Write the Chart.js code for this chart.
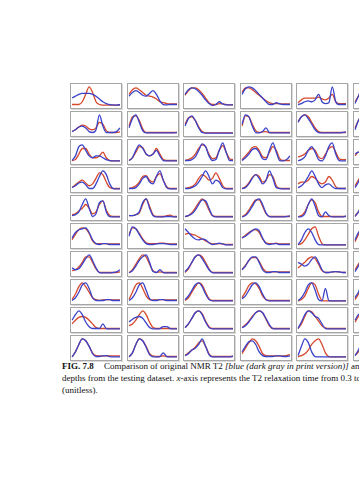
<!DOCTYPE html>
<html>
<head>
<meta charset="utf-8">
<script src="https://cdn.jsdelivr.net/npm/chart.js@4.4.0/dist/chart.umd.min.js"></script>
<style>
  html, body { margin: 0; padding: 0; background: #fff; width: 359px; height: 480px; overflow: hidden; }
  #grid { position: absolute; left: 0; top: 0; width: 359px; height: 480px; overflow: hidden; }
  .panel { position: absolute; width: 50px; height: 24px; border: 1px solid #a6a6a6; box-shadow: 1px 1px 0 #dadada; background: #fff; }
  .panel canvas { display: block; }
  #caption { position: absolute; left: 62px; top: 361px; width: 460px; font-family: "Liberation Serif", "Times New Roman", serif; font-size: 9px; line-height: 11.8px; color: #111; white-space: nowrap; }
  #caption b { font-weight: bold; margin-right: 8px; }
</style>
</head>
<body>
<div id="grid"></div>
<div id="caption">
  <div><b>FIG. 7.8</b> Comparison of original NMR T2 <i>[blue (dark gray in print version)]</i> and predicted NMR T2 <i>[red]</i></div>
  <div>depths from the testing dataset. <i>x</i>-axis represents the T2 relaxation time from 0.3 to 3000 ms</div>
  <div>(unitless).</div>
</div>
<script>
// bins of the T2 distribution (x-axis of every small panel)
var xLabels = [0, 1, 2, 3, 4, 5, 6, 7, 8, 9, 10, 11, 12, 13, 14];

// original (blue) and predicted (red) curves, one array per row, 6 panels per row
var row1Blue = [
  [4, 5, 6, 6.5, 6.5, 6.5, 6, 5, 3.5, 2, 1, 0.5, 0.3, 0.2, 0.5],
  [5, 7, 8, 7, 5.5, 5, 6.5, 8, 6, 2.5, 0.5, 0.3, 0.5, 0.5, 0.5],
  [6, 8.5, 9.5, 9, 7.5, 5.5, 3, 1, 0, 0.5, 2, 0.8, 0.3, 0.3, 0.3],
  [6, 9, 10, 9.5, 8, 6, 4, 2, 0.5, 0.5, 1.5, 0.8, 0.5, 0.5, 0.5],
  [0.5, 1, 2, 2.5, 2, 3, 6, 2, 1, 1.5, 10, 2, 0.5, 0.5, 0.5],
  [1, 5, 9, 8]
];
var row1Red = [
  [0.5, 0.5, 0.5, 2, 6, 10, 7, 2, 0.5, 0.2, 0.2, 0.2, 0.2, 0.2, 0.2],
  [6, 8.5, 9.5, 8.5, 7, 5.5, 5, 4.5, 3.5, 2, 1.5, 1, 0.8, 0.8, 0.8],
  [5.5, 8, 9.5, 9.5, 8.5, 6.5, 4, 1.5, 0.5, 0.5, 1, 0.8, 0.5, 0.3, 0.3],
  [7, 9.5, 9.5, 8.5, 7, 5.5, 4, 2.5, 1.5, 1, 1, 1, 0.8, 0.8, 0.8],
  [1.5, 3, 4, 4, 4, 4, 4.5, 3.5, 3, 4, 6, 2, 1, 1, 1],
  [2, 5, 8, 8]
];

var row2Blue = [
  [1, 2, 3.5, 4, 3, 1, 0.5, 2, 10, 4, 0.5, 0.5, 0.5, 1, 3],
  [3, 8, 10, 6, 1.5, 0.3, 0.3, 0.3, 0.3, 0.3, 0.3, 0.3, 0.3, 0.3, 0.5],
  [4, 8, 9.5, 7, 3, 0.5, 0.2, 0.2, 0.2, 0.2, 0.2, 0.2, 0.2, 0.2, 0.2],
  [5, 10, 9, 4, 0.5, 0.3, 1, 3, 0.5, 0.3, 0.3, 0.3, 0.3, 0.3, 0.3],
  [6, 9, 10, 8, 5, 2, 0.5, 0.3, 0.3, 0.3, 0.3, 0.3, 0.3, 0.5, 0.8],
  [2, 7, 10, 8]
];
var row2Red = [
  [1, 2, 3.5, 4.5, 4, 2.5, 2, 3, 6, 5, 1.5, 0.5, 0.5, 0.5, 0.8],
  [4, 9, 9.5, 7, 2.5, 0.5, 0.5, 0.5, 0.5, 0.5, 0.5, 0.5, 0.5, 0.5, 0.5],
  [5, 8.5, 9, 7, 3.5, 1, 0.3, 0.3, 0.3, 0.3, 0.3, 0.3, 0.3, 0.3, 0.3],
  [4, 9.5, 9, 5, 1.5, 0.5, 0.8, 1, 0.5, 0.5, 0.5, 0.5, 0.5, 0.5, 0.5],
  [6.5, 9, 10, 9, 6, 3, 1, 0.5, 0.5, 0.5, 0.5, 0.5, 0.5, 0.5, 0.5],
  [3, 7, 9, 8]
];

var row3Blue = [
  [0.5, 3, 8, 9, 6, 3, 2, 3, 3, 2, 1, 0.5, 0.3, 0.3, 0.3],
  [0.5, 2, 6, 9, 7, 4, 3, 4, 6, 3, 0.5, 0.3, 0.3, 0.3, 0.3],
  [0.5, 0.5, 1, 2.5, 6, 9.5, 8, 3, 0.5, 1, 6, 10, 5, 0.5, 0.5],
  [0.5, 2, 4, 6.5, 7, 5, 1.5, 1, 6, 10, 5, 0.5, 0.3, 1, 3],
  [0.5, 1, 2.5, 6, 8, 5, 1, 0.3, 3, 8, 10, 4, 0.5, 0.3, 0.3],
  [4, 5, 4, 3]
];
var row3Red = [
  [0.5, 1, 4, 7, 7, 4, 2, 2, 3, 5, 2, 0.5, 0.3, 0.3, 0.3],
  [0.5, 2, 5, 8, 7.5, 4, 3, 4, 7, 4, 1, 0.5, 0.5, 0.5, 0.5],
  [0.5, 1, 2, 4, 7, 9, 8, 4, 1.5, 2, 6, 8.5, 5, 1.5, 1],
  [1, 3, 5, 7.5, 8, 6, 2.5, 2, 5, 8, 6, 1.5, 0.5, 0.5, 0.5],
  [2.5, 3, 4, 6, 7, 6, 2.5, 1.5, 4, 7, 8, 5, 1.5, 1, 1],
  [3, 5, 5, 4]
];

var row4Blue = [
  [1, 2, 3.5, 4, 2.5, 0.5, 0.5, 3, 7, 10, 8, 3, 0.5, 0.3, 0.3],
  [0.5, 0.5, 1, 3, 6, 7, 4, 3, 7, 10, 5, 1, 0.3, 0.3, 0.3],
  [0.5, 0.5, 1, 2, 4, 7, 10, 7, 3, 5, 4, 1, 0.3, 0.3, 0.3],
  [0.5, 1, 3, 6, 8, 6, 3, 5, 10, 6, 1, 0.5, 0.3, 0.3, 0.3],
  [1, 2, 4, 7, 10, 7, 3, 1, 2.5, 3, 1.5, 0.5, 0.5, 0.5, 0.5],
  [1, 4, 8, 9]
];
var row4Red = [
  [1, 2.5, 4, 5, 3.5, 2, 3, 6, 9, 8, 4, 1, 0.5, 0.5, 0.5],
  [0.5, 1, 2, 4, 7, 7.5, 5, 4, 7, 8.5, 5, 1.5, 0.5, 0.5, 0.5],
  [0.5, 1, 1.5, 3, 6, 8, 7, 5, 6, 9, 6, 2, 0.5, 0.5, 0.5],
  [0.5, 1.5, 3.5, 6.5, 8, 7, 4, 5, 8, 7, 2, 0.5, 0.5, 0.5, 0.5],
  [3, 4, 4, 5, 7, 6, 4, 3, 4, 7, 5, 1.5, 0.5, 0.5, 0.5],
  [2, 5, 8, 8]
];

var row5Blue = [
  [1, 1.5, 3, 7, 10, 5, 0.5, 2, 8, 9, 3, 0.5, 0.3, 0.3, 0.3],
  [1, 1, 1.5, 3, 8, 10, 5, 1, 0.3, 0.3, 0.3, 0.5, 0.5, 0.3, 0.3],
  [0.5, 1, 2, 4, 7, 9.5, 9, 5, 1, 0.3, 0.3, 0.3, 0.3, 0.3, 0.3],
  [0.3, 1, 3, 6, 9, 10, 7, 2.5, 0.5, 0.3, 0.3, 0.3, 0.3, 0.5, 0.8],
  [0.3, 0.5, 2, 7, 10, 6, 1, 0.3, 3, 1, 0.3, 0.3, 0.3, 0.3, 0.8],
  [0.5, 3, 7, 9]
];
var row5Red = [
  [1.5, 2, 3.5, 5, 7, 5, 2, 3, 7, 9, 4, 1, 0.5, 0.5, 0.5],
  [1, 1, 1.5, 2.5, 7, 10, 6, 1.5, 0.5, 0.5, 0.5, 1, 1.2, 0.5, 0.5],
  [0.5, 1, 2.5, 5, 8, 10, 8, 4, 1, 0.5, 0.5, 0.5, 0.5, 0.5, 0.5],
  [0.5, 1.5, 4, 7, 9.5, 9.5, 6, 2, 0.5, 0.5, 0.5, 0.5, 0.5, 0.5, 0.5],
  [0.5, 1, 3, 7, 9.5, 8, 3, 0.5, 0.5, 0.5, 0.5, 0.5, 0.5, 0.5, 0.5],
  [1, 3, 6, 9]
];

var row6Blue = [
  [4, 7, 8.5, 9, 9.5, 7, 3, 1, 0.5, 1, 1, 0.5, 0.5, 0.5, 0.5],
  [5, 10, 9, 6, 3, 1, 0.5, 0.5, 0.8, 1, 1, 0.8, 0.5, 0.5, 0.5],
  [9, 7, 5, 3.5, 3, 3.5, 3, 1.5, 0.5, 0.8, 1.2, 0.8, 0.3, 0.3, 0.3],
  [4, 5, 6.5, 8, 9, 8, 4, 1, 0.5, 0.8, 1, 0.5, 0.5, 0.5, 0.5],
  [0.5, 3, 7, 9, 7, 3, 0.5, 0.3, 0.3, 0.3, 0.3, 0.3, 0.3, 0.3, 0.3],
  [3, 7, 9, 8]
];
var row6Red = [
  [3, 6, 8.5, 9.5, 9, 6.5, 2.5, 1, 1, 1, 1, 0.8, 0.8, 0.8, 0.8],
  [6, 9.5, 9, 6.5, 3.5, 1.5, 1, 1, 1, 1.2, 1.2, 1, 0.8, 0.8, 0.8],
  [6, 6.5, 6, 5.5, 4.5, 3.5, 2.5, 1.5, 0.8, 0.8, 1, 0.8, 0.5, 0.5, 0.5],
  [4, 5.5, 7, 8, 8.5, 7, 3.5, 1.5, 1, 1, 1.2, 0.8, 0.8, 0.8, 0.8],
  [0.5, 1, 3, 6, 9, 10, 5, 1, 0.3, 0.3, 0.3, 0.3, 0.3, 0.3, 0.3],
  [2, 6, 9, 9]
];

var row7Blue = [
  [3, 2, 2.5, 5, 8, 10, 7, 3, 0.5, 0.3, 0.3, 0.3, 0.5, 0.8, 2],
  [0.3, 1.5, 4, 7, 9, 10, 6, 1, 0.5, 2, 0.5, 0.3, 0.3, 0.3, 0.3],
  [1, 3, 6, 9, 10, 8, 5, 2, 0.5, 0.3, 0.3, 0.3, 0.3, 0.3, 0.3],
  [2, 4, 7, 9, 9, 6, 2, 0.5, 0.5, 1, 1, 0.5, 0.5, 0.5, 0.5],
  [6, 5, 4, 5, 7.5, 9, 6, 2, 0.5, 0.5, 0.8, 1, 0.8, 0.5, 0.5],
  [1, 4, 8, 9]
];
var row7Red = [
  [1.5, 2, 3.5, 6, 9, 9, 6, 2.5, 0.5, 0.5, 0.5, 0.5, 0.5, 0.5, 0.8],
  [0.5, 2, 5, 8, 10, 9, 5, 1.5, 0.5, 0.8, 0.5, 0.5, 0.5, 0.5, 0.5],
  [0.5, 2.5, 6, 9, 10, 9, 6, 2.5, 0.5, 0.5, 0.5, 0.5, 0.5, 0.5, 0.5],
  [2, 4.5, 7, 8.5, 8.5, 6.5, 3, 1, 0.8, 0.8, 0.8, 0.8, 0.8, 0.8, 0.8],
  [3, 4.5, 6, 8, 9, 8, 5, 1.5, 0.5, 0.5, 0.8, 1, 0.8, 0.5, 0.5],
  [2, 5, 8, 9]
];

var row8Blue = [
  [0.5, 2, 5, 9, 10, 7, 2, 0.5, 0.5, 0.5, 1, 1, 0.5, 0.5, 0.5],
  [0.5, 2, 5, 9, 10, 6, 1.5, 0.5, 0.5, 1, 1, 0.5, 0.5, 0.5, 0.5],
  [1, 3, 6, 9, 10, 8, 4, 1, 0.3, 0.3, 0.3, 0.3, 0.3, 0.3, 0.3],
  [1.5, 3, 6, 9, 10, 8, 4, 1, 0.3, 0.3, 0.3, 0.3, 0.3, 0.3, 0.3],
  [0.5, 2, 5, 9, 10, 6, 1, 0.3, 7, 0.5, 0.3, 0.3, 0.3, 0.3, 0.3],
  [2, 5, 9, 9]
];
var row8Red = [
  [1, 4, 8, 10, 8, 5, 2, 1, 0.5, 0.8, 1, 1, 0.8, 0.8, 0.8],
  [1, 5, 9, 10, 7, 3, 1, 0.8, 0.8, 1, 1, 0.8, 0.8, 0.8, 0.8],
  [0.5, 2, 5, 8, 10, 9, 5, 1.5, 0.5, 0.5, 0.5, 0.5, 0.5, 0.5, 0.5],
  [2, 5, 8.5, 10, 9.5, 7, 3, 1, 0.5, 0.5, 0.5, 0.5, 0.5, 0.5, 0.5],
  [0.3, 1, 3, 7, 10, 9, 4, 0.5, 0.3, 0.3, 0.3, 0.3, 0.3, 0.3, 0.3],
  [1, 4, 8, 10]
];

var row9Blue = [
  [5, 8, 10, 8, 4, 1.5, 0.5, 0.5, 0.5, 3, 0.5, 0.3, 0.3, 0.3, 0.3],
  [4, 5.5, 6.5, 7, 6, 3.5, 1, 0.3, 0.3, 0.5, 1.5, 1.5, 0.5, 0.3, 0.3],
  [1, 3, 6, 9, 10, 8, 4, 1, 0.3, 0.3, 0.3, 0.3, 0.3, 0.3, 0.3],
  [1, 2, 4, 6.5, 9, 10, 9, 6, 2.5, 0.5, 0.3, 0.3, 0.3, 0.3, 0.3],
  [0.5, 4, 8, 10, 9, 7, 6, 3, 0.5, 0.3, 0.3, 0.3, 0.3, 0.3, 0.3],
  [5, 8, 9, 8]
];
var row9Red = [
  [3, 5, 6.5, 7, 6.5, 5, 3, 1, 0.5, 0.5, 0.5, 0.5, 0.5, 0.5, 0.5],
  [2, 3, 5, 8, 10, 8, 4, 1, 0.5, 0.5, 0.5, 0.5, 0.5, 0.5, 0.5],
  [1, 3, 6, 9, 10, 8.5, 4.5, 1.5, 0.5, 0.5, 0.5, 0.5, 0.5, 0.5, 0.5],
  [1, 2.5, 4.5, 7, 9, 10, 9, 5.5, 2, 0.5, 0.5, 0.5, 0.5, 0.5, 0.5],
  [0.5, 3, 7, 10, 9.5, 7, 4.5, 2, 0.8, 0.5, 0.5, 0.5, 0.5, 0.5, 0.5],
  [4, 7, 9, 9]
];

var row10Blue = [
  [0.3, 3, 7, 10, 9, 6, 2, 0.5, 0.5, 0.8, 1, 0.5, 0.3, 0.3, 0.3],
  [0.3, 2.5, 7, 10, 9, 5.5, 1.5, 0.3, 0.3, 0.5, 2.5, 0.5, 0.3, 0.3, 0.3],
  [1, 2, 4, 5, 7, 10, 6, 1.5, 0.3, 0.3, 0.3, 0.3, 0.3, 0.3, 0.8],
  [3, 6, 8.5, 9, 7, 3, 1, 0.5, 0.5, 0.5, 0.8, 0.8, 0.5, 0.5, 0.8],
  [1, 6, 10, 8, 3, 0.5, 0.3, 0.3, 0.3, 0.3, 0.3, 0.3, 0.3, 0.3, 0.3],
  [1, 4, 8, 9]
];
var row10Red = [
  [0.3, 3, 7, 10, 9, 6, 2.5, 1, 0.8, 0.8, 0.8, 0.8, 0.8, 0.8, 0.8],
  [0.3, 2.5, 7, 10, 9, 6, 2, 0.8, 0.5, 0.5, 0.8, 0.5, 0.5, 0.5, 0.5],
  [1, 2.5, 4, 5.5, 8, 9, 6, 2, 0.5, 0.5, 0.5, 0.5, 0.5, 0.5, 0.5],
  [2, 5, 8, 10, 9, 6, 2, 1, 0.8, 0.8, 0.8, 0.8, 0.8, 1, 1.5],
  [0.5, 1, 2, 4, 7, 9, 10, 7, 2.5, 0.5, 0.3, 0.3, 0.3, 0.3, 0.3],
  [1, 3, 7, 9]
];

var blueRows = [row1Blue, row2Blue, row3Blue, row4Blue, row5Blue, row6Blue, row7Blue, row8Blue, row9Blue, row10Blue];
var redRows = [row1Red, row2Red, row3Red, row4Red, row5Red, row6Red, row7Red, row8Red, row9Red, row10Red];

var blueColor = '#3b43c9';
var redColor = '#d6482c';

var grid = document.getElementById('grid');

function makePanel(r, c) {
  var div = document.createElement('div');
  div.className = 'panel';
  div.style.left = Math.round(70 + c * 56.5) + 'px';
  div.style.top = (83 + r * 28) + 'px';
  var canvas = document.createElement('canvas');
  canvas.width = 50;
  canvas.height = 24;
  div.appendChild(canvas);
  grid.appendChild(div);

  new Chart(canvas.getContext('2d'), {
    type: 'line',
    data: {
      labels: xLabels,
      datasets: [
        { data: blueRows[r][c], borderColor: blueColor, borderWidth: 1.3, pointRadius: 0, cubicInterpolationMode: 'monotone', fill: false },
        { data: redRows[r][c], borderColor: redColor, borderWidth: 1.3, pointRadius: 0, cubicInterpolationMode: 'monotone', fill: false }
      ]
    },
    options: {
      responsive: false,
      animation: false,
      events: [],
      layout: { padding: { left: 1, right: 1, top: 2, bottom: 2 } },
      plugins: { legend: { display: false }, tooltip: { enabled: false } },
      scales: {
        x: { display: false },
        y: { display: false, min: -0.3, max: 10.5 }
      }
    }
  });
}

for (var r = 0; r < 10; r++) {
  for (var c = 0; c < 6; c++) {
    makePanel(r, c);
  }
}
</script>
</body>
</html>
